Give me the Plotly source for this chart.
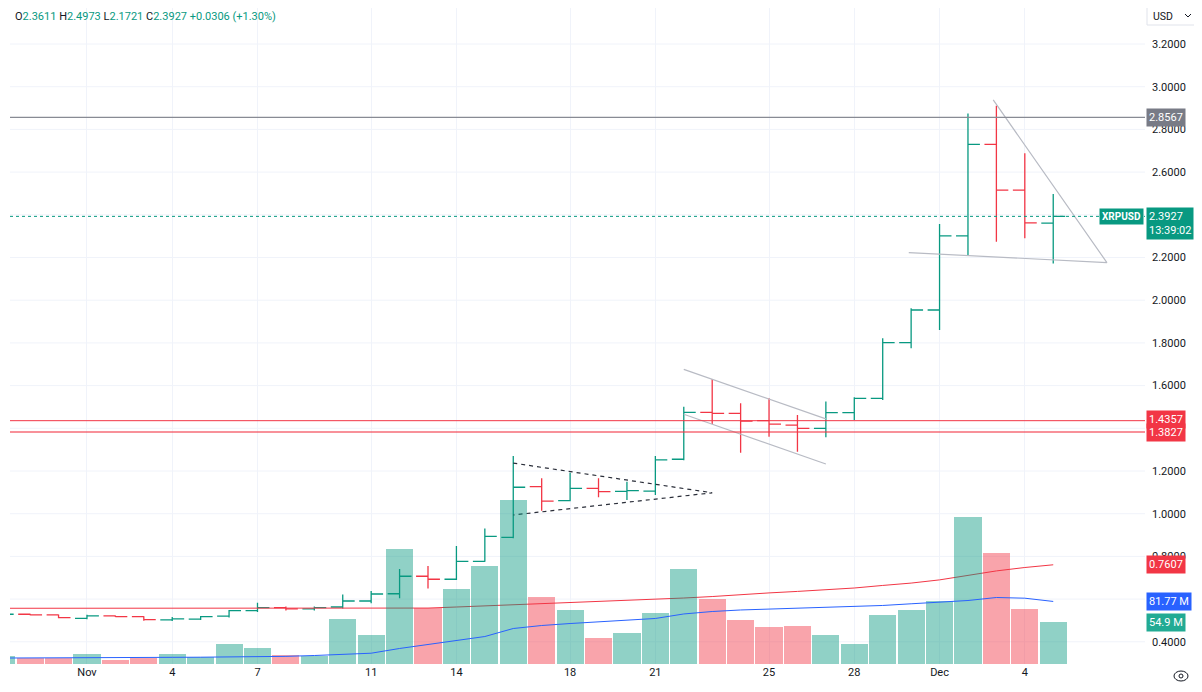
import plotly.graph_objects as go
import pandas as pd

# ---------------- data ----------------
dates = pd.date_range("2024-10-29", "2024-12-05", freq="D")

opens  = [0.520, 0.529, 0.526, 0.510, 0.521, 0.518, 0.503, 0.506, 0.520, 0.546,
          0.560, 0.554, 0.563, 0.591, 0.625, 0.707, 0.693, 0.777, 0.889, 1.127,
          1.061, 1.119, 1.105, 1.106, 1.255, 1.475, 1.470, 1.436, 1.415, 1.400,
          1.473, 1.540, 1.801, 1.954, 2.301, 2.730, 2.516, 2.3611]
highs  = [0.535, 0.531, 0.528, 0.527, 0.523, 0.520, 0.516, 0.521, 0.549, 0.583,
          0.565, 0.565, 0.622, 0.638, 0.741, 0.755, 0.849, 0.931, 1.270, 1.166,
          1.192, 1.166, 1.150, 1.270, 1.501, 1.631, 1.517, 1.541, 1.462, 1.525,
          1.545, 1.822, 1.962, 2.357, 2.875, 2.911, 2.688, 2.4973]
lows   = [0.515, 0.524, 0.510, 0.506, 0.516, 0.499, 0.498, 0.502, 0.514, 0.540,
          0.547, 0.547, 0.556, 0.580, 0.604, 0.650, 0.689, 0.775, 0.885, 1.014,
          1.058, 1.077, 1.064, 1.088, 1.250, 1.420, 1.286, 1.361, 1.290, 1.358,
          1.439, 1.533, 1.775, 1.860, 2.208, 2.274, 2.290, 2.1721]
closes = [0.529, 0.526, 0.513, 0.521, 0.518, 0.504, 0.507, 0.518, 0.546, 0.560,
          0.554, 0.560, 0.591, 0.624, 0.707, 0.693, 0.777, 0.894, 1.124, 1.059,
          1.119, 1.103, 1.108, 1.252, 1.475, 1.470, 1.434, 1.420, 1.400, 1.473,
          1.540, 1.801, 1.954, 2.301, 2.730, 2.516, 2.3621, 2.3927]

# volume in millions
volume = [10.5, 7.8, 7.8, 13.7, 4.6, 7.8, 13.7, 9.2, 25.5, 20.3,
          12.4, 10.5, 58.8, 37.3, 149.7, 73.2, 97.4, 128.1, 215.0, 88.2,
          71.2, 34.6, 39.9, 67.3, 124.2, 85.0, 57.5, 49.0, 49.7, 37.9,
          26.1, 64.7, 71.2, 83.0, 191.5, 145.7, 72.5, 54.9]
vol_ma = [7.8, 7.8, 7.8, 7.8, 8.2, 8.5, 8.7, 8.9, 9.1, 9.4,
          10.0, 11.1, 12.4, 14.1, 20.3, 25.5, 30.7, 35.9, 46.4, 50.3,
          52.9, 54.9, 56.9, 59.5, 65.4, 68.6, 70.6, 71.9, 73.2, 73.8,
          75.2, 76.5, 78.7, 80.4, 83.0, 86.9, 86.0, 81.77]
price_ma = [0.557, 0.557, 0.556, 0.556, 0.556, 0.555, 0.555, 0.555, 0.555, 0.555,
            0.555, 0.555, 0.555, 0.555, 0.556, 0.558, 0.563, 0.568, 0.572, 0.579,
            0.584, 0.589, 0.593, 0.598, 0.605, 0.612, 0.622, 0.629, 0.636, 0.643,
            0.652, 0.664, 0.675, 0.690, 0.711, 0.732, 0.748, 0.7607]

# drawings
hlines_levels = [2.8567, 1.4357, 1.3827]
last_price = 2.3927
tri_x = ["2024-11-16", "2024-11-23", "2024-11-16"]
tri_y = [1.237, 1.098, 0.994]
chan_up_x = ["2024-11-22", "2024-11-27"]
chan_up_y = [1.676, 1.444]
chan_lo_x = ["2024-11-22", "2024-11-27"]
chan_lo_y = [1.466, 1.233]
pen_x = ["2024-12-02 21:20", "2024-12-06 21:20", "2024-11-29 22:00"]
pen_y = [2.938, 2.176, 2.223]

xtick_vals = ["2024-11-01", "2024-11-04", "2024-11-07", "2024-11-11", "2024-11-14",
              "2024-11-18", "2024-11-21", "2024-11-25", "2024-11-28", "2024-12-01",
              "2024-12-04"]
xtick_text = ["Nov", "4", "7", "11", "14", "18", "21", "25", "28", "Dec", "4"]
ytick_vals = [0.4, 0.8, 1.0, 1.2, 1.6, 1.8, 2.0, 2.2, 2.6, 2.8, 3.0, 3.2]
grid_vals = [0.4, 0.6, 0.8, 1.0, 1.2, 1.4, 1.6, 1.8, 2.0, 2.2, 2.4, 2.6, 2.8, 3.0, 3.2]

# ---------------- styles ----------------
UP = "#089981"
DN = "#f23645"
UPV = "rgba(8,153,129,0.45)"
DNV = "rgba(242,54,69,0.45)"
FONT = "Roboto"
OFF = 8                      # page body margin of the browser
W, H = 1202 - OFF, 692 - OFF
ML, MR, MT, MB = 10 - OFF, 57, 0, 28
PW, PH = W - ML - MR, H - MT - MB


def px(xr):                  # reference-page pixel -> paper
    return (xr - OFF - ML) / PW


def py(yr):
    return (H - MB - (yr - OFF)) / PH


fig = go.Figure()

fig.add_trace(go.Scatter(x=dates, y=price_ma, mode="lines",
                         line=dict(color=DN, width=1), yaxis="y", hoverinfo="skip"))
fig.add_trace(go.Scatter(x=dates, y=vol_ma, mode="lines",
                         line=dict(color="#2962ff", width=1), yaxis="y2", hoverinfo="skip"))

vcols = [UPV if c >= o else DNV for o, c in zip(opens, closes)]
fig.add_trace(go.Bar(x=dates, y=volume, marker=dict(color=vcols, line=dict(width=0)),
                     width=0.955 * 86400000, yaxis="y2", hoverinfo="skip"))

fig.add_trace(go.Scatter(x=tri_x, y=tri_y, mode="lines",
                         line=dict(color="#2a2e39", width=1.2, dash="4px,4px"), hoverinfo="skip"))
for xs, ys in [(chan_up_x, chan_up_y), (chan_lo_x, chan_lo_y), (pen_x, pen_y)]:
    fig.add_trace(go.Scatter(x=xs, y=ys, mode="lines",
                             line=dict(color="#b8bbc4", width=1.2), hoverinfo="skip"))

fig.add_trace(go.Ohlc(x=dates, open=opens, high=highs, low=lows, close=closes,
                      increasing=dict(line=dict(color=UP, width=1.3)),
                      decreasing=dict(line=dict(color=DN, width=1.3)),
                      tickwidth=0.42, hoverinfo="skip"))

shapes = []
for gv in grid_vals:
    shapes.append(dict(type="line", xref="paper", x0=0, x1=1, yref="y", y0=gv, y1=gv,
                       line=dict(color="#f0f3fa", width=1), layer="below"))
hl_styles = [dict(color="#888b94", width=1.3), dict(color=DN, width=1),
             dict(color="rgba(242,54,69,0.55)", width=2)]
for lvl, st in zip(hlines_levels, hl_styles):
    shapes.append(dict(type="line", xref="paper", x0=0, x1=1, yref="y", y0=lvl, y1=lvl,
                       line=st, layer="above"))
shapes.append(dict(type="line", xref="paper", x0=0, x1=1, yref="y", y0=last_price,
                   y1=last_price, line=dict(color=UP, width=1, dash="dot"), layer="above"))
shapes.append(dict(type="rect", xref="paper", yref="paper", x0=px(1147), x1=px(1197),
                   y0=py(25), y1=py(6), line=dict(color="#e0e3eb", width=1),
                   fillcolor="white"))
shapes.append(dict(type="path", xref="paper", yref="paper",
                   path=f"M {px(1185)} {py(14)} L {px(1188)} {py(17)} L {px(1191)} {py(14)}",
                   line=dict(color="#131722", width=1)))
shapes.append(dict(type="circle", xref="paper", yref="paper", x0=px(1174), x1=px(1188),
                   y0=py(681), y1=py(671), line=dict(color="#131722", width=1)))
shapes.append(dict(type="circle", xref="paper", yref="paper", x0=px(1179), x1=px(1183),
                   y0=py(678), y1=py(674), line=dict(color="#131722", width=1)))

ann = []
g = "#131722"
hdr = (f"<span style='color:{g}'>O</span>2.3611 <span style='color:{g}'>H</span>2.4973 "
       f"<span style='color:{g}'>L</span>2.1721 <span style='color:{g}'>C</span>2.3927 "
       f"+0.0306 (+1.30%)")
ann.append(dict(xref="paper", yref="paper", x=px(13), y=py(16), xanchor="left",
                yanchor="middle", text=hdr, showarrow=False,
                font=dict(family=FONT, size=11, color=UP)))
ann.append(dict(xref="paper", yref="paper", x=px(1151), y=py(16), xanchor="left",
                yanchor="middle", text="USD", showarrow=False,
                font=dict(family=FONT, size=10.5, color=g)))


def label(y, text, bg, yref="y", yshift=0):
    ann.append(dict(xref="paper", x=1, xanchor="left", xshift=1, yref=yref, y=y,
                    yanchor="middle", yshift=yshift, text=text, showarrow=False,
                    bgcolor=bg, borderpad=2, align="left",
                    font=dict(family=FONT, size=11, color="white")))


label(hlines_levels[0], "2.8567", "#787b86")
label(hlines_levels[1], "1.4357", DN, yshift=1)
label(hlines_levels[2], "1.3827", DN, yshift=-1)
label(last_price, "2.3927<br>13:39:02", UP, yshift=-7)
label(price_ma[-1], "0.7607", DN)
label(vol_ma[-1], "81.77 M", "#2962ff", yref="y2")
label(volume[-1], "54.9 M", "#22ab94", yref="y2")
ann.append(dict(xref="paper", x=1, xanchor="right", xshift=-1, yref="y", y=last_price,
                yanchor="middle", text="<b>XRPUSD</b>", showarrow=False, bgcolor=UP,
                borderpad=2, font=dict(family=FONT, size=10, color="white")))

top_price = 3.2 + (44 - OFF) / 213.5
bot_price = 3.2 - (664 - 44) / 213.5
vol_top = PH * 1.307

fig.update_layout(
    width=W, height=H,
    margin=dict(l=ML, r=MR, t=MT, b=MB),
    paper_bgcolor="white", plot_bgcolor="white",
    showlegend=False, bargap=0,
    shapes=shapes, annotations=ann,
    font=dict(family=FONT, size=11, color=g),
    xaxis=dict(type="date", range=["2024-10-29 07:00", "2024-12-08 05:30"],
               tickvals=xtick_vals, ticktext=xtick_text, showgrid=True,
               gridcolor="#f0f3fa", gridwidth=1, zeroline=False, showline=False,
               rangeslider=dict(visible=False), ticks="", tickfont=dict(size=11, color=g),
               fixedrange=True),
    yaxis=dict(side="right", range=[bot_price, top_price], tickvals=ytick_vals,
               tickformat=".4f", showgrid=False, zeroline=False,
               showline=False, ticks="", ticklabelstandoff=6,
               tickfont=dict(size=11, color=g)),
    yaxis2=dict(overlaying="y", range=[0, vol_top], showgrid=False, showticklabels=False,
                zeroline=False),
)

fig.write_html("out.html")
